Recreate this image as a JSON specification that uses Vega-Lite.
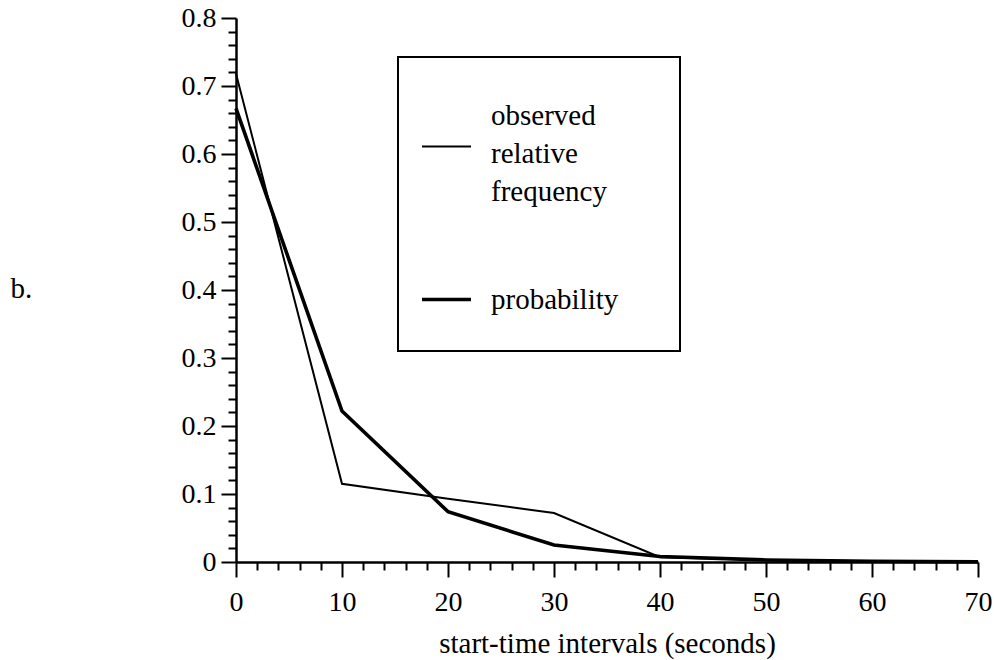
{
  "$schema": "https://vega.github.io/schema/vega-lite/v6.json",
  "autosize": {"type": "none"},
  "width": 742,
  "height": 544,
  "padding": {"left": 236, "top": 18, "right": 16, "bottom": 98},
  "background": "white",
  "config": {
    "font": "Liberation Serif",
    "view": {"stroke": null},
    "style": {"guide-label": {"lineHeight": 38}},
    "legend": {"strokeWidth": 2}
  },
  "data": {
    "values": [
      {"t": 0, "series": "observed relative frequency", "value": 0.718},
      {"t": 10, "series": "observed relative frequency", "value": 0.115},
      {"t": 20, "series": "observed relative frequency", "value": 0.093},
      {"t": 30, "series": "observed relative frequency", "value": 0.072},
      {"t": 40, "series": "observed relative frequency", "value": 0.007},
      {"t": 50, "series": "observed relative frequency", "value": 0.003},
      {"t": 60, "series": "observed relative frequency", "value": 0.001},
      {"t": 70, "series": "observed relative frequency", "value": 0.0},
      {"t": 0, "series": "probability", "value": 0.667},
      {"t": 10, "series": "probability", "value": 0.222},
      {"t": 20, "series": "probability", "value": 0.074},
      {"t": 30, "series": "probability", "value": 0.025},
      {"t": 40, "series": "probability", "value": 0.008},
      {"t": 50, "series": "probability", "value": 0.003},
      {"t": 60, "series": "probability", "value": 0.001},
      {"t": 70, "series": "probability", "value": 0.0003}
    ]
  },
  "mark": {"type": "line", "color": "black", "strokeJoin": "miter"},
  "encoding": {
    "x": {
      "field": "t",
      "type": "quantitative",
      "scale": {"domain": [0, 70], "nice": false, "zero": false},
      "axis": {
        "title": "start-time intervals (seconds)",
        "values": [0,2,4,6,8,10,12,14,16,18,20,22,24,26,28,30,32,34,36,38,40,42,44,46,48,50,52,54,56,58,60,62,64,66,68,70],
        "labelExpr": "datum.value % 10 === 0 ? datum.label : ''",
        "tickSize": {"condition": {"test": "datum.value % 10 === 0", "value": 15}, "value": 8},
        "tickColor": "black",
        "tickWidth": 2,
        "domainColor": "black",
        "domainWidth": 2.5,
        "labelColor": "black",
        "labelFontSize": 28,
        "labelPadding": 11,
        "labelOverlap": false,
        "labelFlush": false,
        "titleColor": "black",
        "titleFontSize": 29,
        "titleFontWeight": "normal",
        "titlePadding": 13,
        "grid": false
      }
    },
    "y": {
      "field": "value",
      "type": "quantitative",
      "scale": {"domain": [0, 0.8], "nice": false},
      "axis": {
        "title": "b.",
        "titleAngle": 0,
        "titleX": -226,
        "titleY": 270,
        "titleAlign": "left",
        "titleBaseline": "middle",
        "titleColor": "black",
        "titleFontSize": 29,
        "titleFontWeight": "normal",
        "values": [0,0.02,0.04,0.06,0.08,0.1,0.12,0.14,0.16,0.18,0.2,0.22,0.24,0.26,0.28,0.3,0.32,0.34,0.36,0.38,0.4,0.42,0.44,0.46,0.48,0.5,0.52,0.54,0.56,0.58,0.6,0.62,0.64,0.66,0.68,0.7,0.72,0.74,0.76,0.78,0.8],
        "labelExpr": "abs(datum.value*10 - round(datum.value*10)) < 0.001 ? format(datum.value, '.1~f') : ''",
        "tickSize": {"condition": {"test": "abs(datum.value*10 - round(datum.value*10)) < 0.001", "value": 15}, "value": 8},
        "tickColor": "black",
        "tickWidth": 2,
        "domainColor": "black",
        "domainWidth": 2.5,
        "labelColor": "black",
        "labelFontSize": 28,
        "labelPadding": 5,
        "labelOverlap": false,
        "labelFlush": false,
        "grid": false
      }
    },
    "detail": {"field": "series"},
    "strokeWidth": {
      "field": "series",
      "type": "nominal",
      "scale": {"domain": ["observed relative frequency", "probability"], "range": [2, 3.6]},
      "legend": {
        "orient": "none",
        "legendX": 162,
        "legendY": 39,
        "title": "\u200b\u00a0\u00a0\u00a0\u00a0\u00a0\u00a0\u00a0\u00a0\u00a0\u00a0\u00a0\u00a0\u00a0\u00a0\u00a0\u00a0\u00a0\u00a0\u00a0\u00a0\u00a0\u00a0\u00a0\u00a0\u00a0\u00a0\u00a0\u00a0\u00a0\u00a0\u00a0\u00a0\u00a0\u00a0\u00a0\u00a0\u00a0\u00a0\u00a0\u00a0\u00a0\u00a0\u00a0\u00a0\u00a0\u00a0\u00a0\u00a0\u00a0\u00a0\u00a0\u00a0\u00a0\u00a0\u00a0\u00a0\u00a0\u00a0\u00a0\u00a0\u00a0\u00a0\u00a0\u00a0\u00a0\u00a0\u00a0\u00a0\u00a0\u00a0\u00a0\u00a0\u00a0\u00a0\u00a0\u00a0\u00a0\u00a0\u00a0\u00a0\u00a0\u00a0\u00a0\u00a0\u00a0\u00a0\u00a0\u00a0\u00a0\u00a0\u00a0\u00a0\u00a0\u00a0\u00a0\u00a0\u00a0\u00a0\u00a0\u00a0\u00a0\u00a0\u00a0\u00a0\u00a0\u200b",
        "titleFontSize": 8,
        "titlePadding": 20,
        "titleLimit": 1000,
        "padding": 36,
        "strokeColor": "black",
        "symbolType": "stroke",
        "symbolSize": 2400,
        "symbolStrokeColor": "black",
        "symbolOffset": -14,
        "labelOffset": 18,
        "labelFontSize": 29,
        "labelColor": "black",
        "labelLimit": 600,
        "labelExpr": "datum.label == 'observed relative frequency' ? ['observed', 'relative', 'frequency'] : datum.label",
        "rowPadding": 66,
        "encode": {
          "title": {"update": {"dy": {"value": -14}}},
          "labels": {"update": {"dy": {"signal": "datum.value === 'probability' ? 0 : -31"}}}
        }
      }
    }
  }
}
